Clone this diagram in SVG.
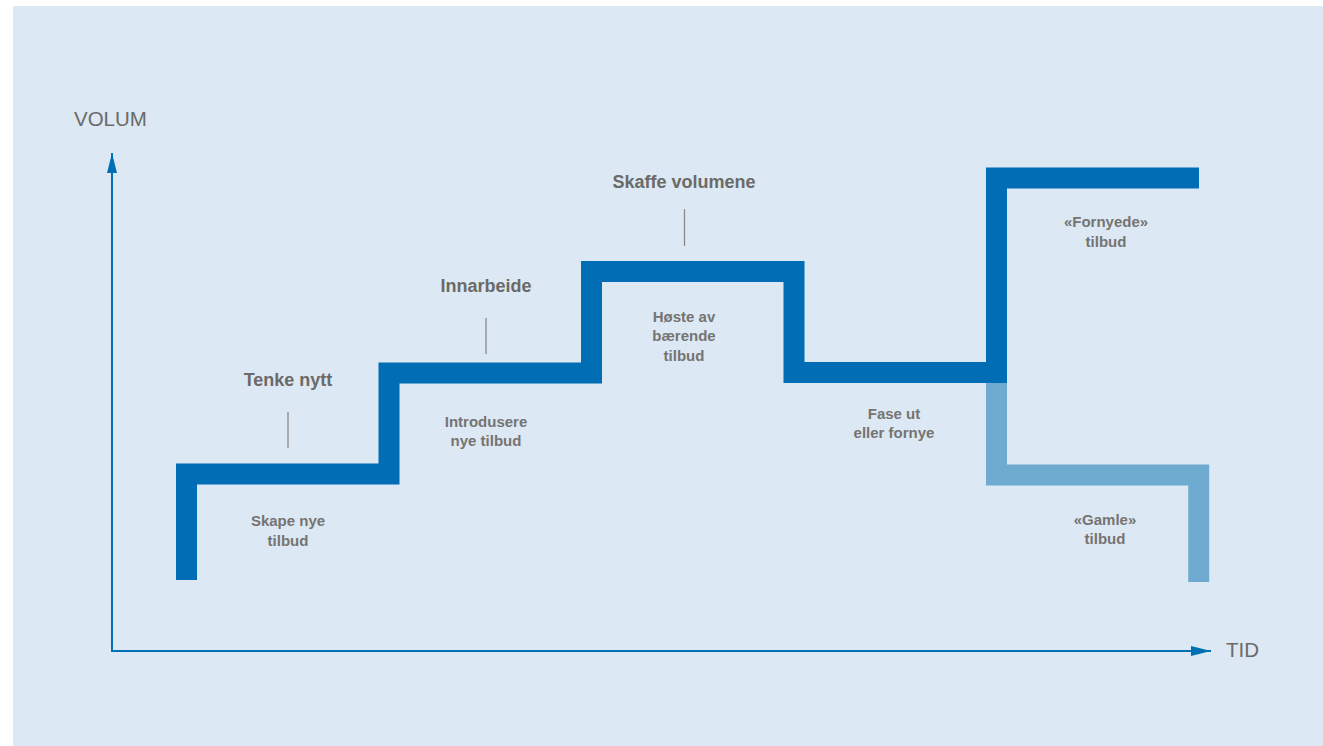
<svg xmlns="http://www.w3.org/2000/svg" width="1323" height="746" viewBox="0 0 1323 746">
  <defs>
    <marker id="arrow" viewBox="0 0 20 10" refX="20" refY="5" markerWidth="20" markerHeight="10" markerUnits="userSpaceOnUse" orient="auto">
      <path d="M0,0 L20,5 L0,10 Z" fill="#0070b5"/>
    </marker>
    <style>
      .axis { fill: none; stroke: #0070b5; stroke-width: 2; }
      .step { fill: none; stroke: #006db5; stroke-width: 21; stroke-linejoin: miter; stroke-linecap: butt; }
      .old { fill: none; stroke: #6faad0; stroke-width: 21; stroke-linejoin: miter; stroke-linecap: butt; }
      .tick { stroke: #8a8a8a; stroke-width: 1.3; }
      .axislabel { font-family: "Liberation Sans", Arial, sans-serif; font-size: 20.5px; fill: #6b6a68; }
      .head { font-family: "Liberation Sans", Arial, sans-serif; font-size: 18px; font-weight: bold; fill: #6b6a68; text-anchor: middle; }
      .sub { font-family: "Liberation Sans", Arial, sans-serif; font-size: 15px; font-weight: bold; fill: #757472; text-anchor: middle; }
    </style>
  </defs>

  <rect x="0" y="0" width="1323" height="746" fill="#ffffff"/>
  <rect x="13" y="6" width="1310" height="740" fill="#dce8f3"/>

  <g id="connectors">
    <line class="axis" x1="112" y1="651" x2="112" y2="153" marker-end="url(#arrow)"/>
    <line class="axis" x1="111" y1="651" x2="1211" y2="651" marker-end="url(#arrow)"/>
    <!-- old offers branch (light) -->
    <path class="old" d="M996.5,383 V475 H1198.7 V582"/>
    <!-- main staircase -->
    <path class="step" d="M186.5,580 V474 H389 V373 H591.5 V271.5 H794 V372.5 H996.5 V178 H1199"/>
  </g>

  <g id="axis-labels">
    <text class="axislabel" x="74" y="126">VOLUM</text>
    <text class="axislabel" x="1226" y="656.5">TID</text>
  </g>

  <g id="step-1">
    <text class="head" x="288" y="386">Tenke nytt</text>
    <line class="tick" x1="288" y1="412" x2="288" y2="448"/>
    <text class="sub" x="288" y="526">Skape nye</text>
    <text class="sub" x="288" y="545.5">tilbud</text>
  </g>

  <g id="step-2">
    <text class="head" x="486" y="292">Innarbeide</text>
    <line class="tick" x1="486" y1="318" x2="486" y2="354"/>
    <text class="sub" x="486" y="426.5">Introdusere</text>
    <text class="sub" x="486" y="445.5">nye tilbud</text>
  </g>

  <g id="step-3">
    <text class="head" x="684" y="188">Skaffe volumene</text>
    <line class="tick" x1="684.5" y1="209" x2="684.5" y2="246"/>
    <text class="sub" x="684" y="322">Høste av</text>
    <text class="sub" x="684" y="341">bærende</text>
    <text class="sub" x="684" y="360.5">tilbud</text>
  </g>

  <g id="step-4">
    <text class="sub" x="894" y="418.5">Fase ut</text>
    <text class="sub" x="894" y="437.5">eller fornye</text>
  </g>

  <g id="renewed">
    <text class="sub" x="1106" y="227">«Fornyede»</text>
    <text class="sub" x="1106" y="246.5">tilbud</text>
  </g>

  <g id="old">
    <text class="sub" x="1105" y="524.5">«Gamle»</text>
    <text class="sub" x="1105" y="544">tilbud</text>
  </g>
</svg>
